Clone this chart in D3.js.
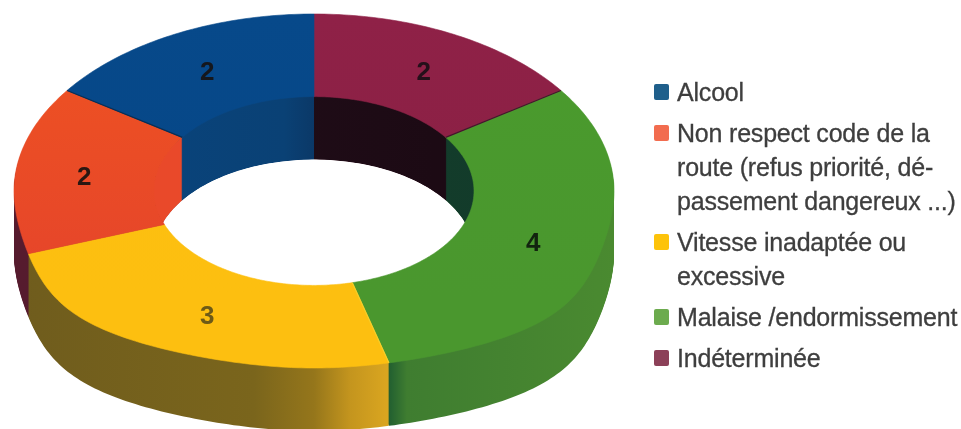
<!DOCTYPE html>
<html lang="fr">
<head>
<meta charset="utf-8">
<script src="https://cdn.jsdelivr.net/npm/d3@7"></script>
<style>
html,body{margin:0;padding:0;background:#fff;overflow:hidden}
svg{display:block;filter:blur(.6px)}
text{font-family:"Liberation Sans",Arial,sans-serif}
</style>
</head>
<body>
<svg id="c" width="961" height="429"></svg>
<script>
// ---- data, legend order ----
const categories = ["Alcool", "Non respect code de la route (refus priorité, dépassement dangereux ...)", "Vitesse inadaptée ou excessive", "Malaise /endormissement", "Indéterminée"];
const values = [2, 2, 3, 4, 2];
const legendLines = [
  ["Alcool"],
  ["Non respect code de la", "route (refus priorité, dé-", "passement dangereux ...)"],
  ["Vitesse inadaptée ou", "excessive"],
  ["Malaise /endormissement"],
  ["Indéterminée"]
];
const legendColors = ["#1f5f8b", "#f26c4f", "#fdc30a", "#6cab4e", "#8c4058"];
const labelColors = ["#15171c", "#2a1712", "#6d5a17", "#12240f", "#24101a"];

// ---- styles ----
const topStops = [
  [["0", "#07498a"], ["1", "#064686"]],
  [["0", "#f05b1c"], ["0.3", "#ec4f24"], ["1", "#e5442b"]],
  [["0", "#fcc00f"], ["1", "#fdbf10"]],
  [["0", "#4a9b2d"], ["1", "#4a972e"]],
  [["0", "#8f2147"], ["1", "#892043"]]
];
const outerStops = [
  [["0", "#0a3f75"], ["1", "#0a3f75"]],
  [["0", "#561b2e"], ["1", "#4a1a2a"]],
  [["0", "#6f5c1d"], ["0.40", "#7a651c"], ["0.5", "#95761b"], ["0.56", "#c4951e"], ["0.62", "#d9a520"], ["1", "#d9a520"]],
  [["0", "#1d5a30"], ["0.62", "#1d5a30"], ["0.655", "#3f7d30"], ["1", "#4a8a30"]],
  [["0", "#4a1a2a"], ["1", "#4a1a2a"]]
];
const innerStops = [
  [["0", "#084681"], ["0.45", "#0a4175"], ["0.58", "#0c2b52"], ["1", "#0c2340"]],
  [["0", "#e9492a"], ["1", "#e9492a"]],
  [["0", "#7a651c"], ["1", "#7a651c"]],
  [["0", "#15402c"], ["1", "#123a2a"]],
  [["0", "#24101c"], ["0.7", "#1c0a14"], ["1", "#1c0a14"]]
];
const seamColors = ["#0a2f55", "none", "#f7cf2a", "#4a1030", "none"];

// ---- geometry ----
const cx = 314, cy = 191, squash = 0.59, depth = 63;
const rOuter = 300, rInner = 160, rLabel = 233;
const bulge = 0.42;

// ring point at clockwise angle a (0 = top) and radius r, with the
// front of the outer rim pushed outward by the perspective view
function project(a, r) {
  const c = -Math.cos(a), t = (r - rInner) / (rOuter - rInner);
  const w = c > 0 ? 1 + bulge * t * c * c * c * (1 - c * c * c * c) : 1;
  return [r * Math.sin(a) * w, r * squash * c];
}
const line = d3.line();
function ringPath(a0, a1) {
  const n = Math.max(2, Math.ceil((a1 - a0) * 60));
  const steps = d3.range(n + 1).map(i => a0 + (a1 - a0) * i / n);
  const pts = steps.map(a => project(a, rOuter)).concat(steps.slice().reverse().map(a => project(a, rInner)));
  return line(pts) + "Z";
}

const svg = d3.select("#c");
const defs = svg.append("defs");

function gradient(id, stops, vertical) {
  const g = defs.append("linearGradient").attr("id", id).attr("gradientUnits", "userSpaceOnUse");
  if (vertical) g.attr("x1", 0).attr("x2", 0).attr("y1", -rOuter * squash).attr("y2", rOuter * squash * 0.6);
  else g.attr("x1", -rOuter).attr("x2", rOuter).attr("y1", 0).attr("y2", 0);
  stops.forEach(s => g.append("stop").attr("offset", s[0]).attr("stop-color", s[1]));
}
values.forEach((_, i) => {
  gradient("top" + i, topStops[i], true);
  gradient("out" + i, outerStops[i], false);
  gradient("inn" + i, innerStops[i], false);
});

// clockwise from 12 o'clock the slices run in reverse legend order
const order = d3.range(values.length).reverse();
const pie = d3.pie().sort(null).value(i => values[i]);
const slices = pie(order);
const slicePath = d => ringPath(d.startAngle, d.endAngle);
const labelArc = d3.arc().innerRadius(2 * rLabel - rOuter).outerRadius(rOuter);
const place = k => `translate(${cx},${cy + k})`;

defs.append("clipPath").attr("id", "hole")
  .append("ellipse").attr("cx", cx).attr("cy", cy).attr("rx", rInner).attr("ry", rInner * squash);

function sweep(parent, prefix) {
  d3.range(depth, 0, -1).forEach(k => {
    parent.append("g").attr("transform", place(k))
      .selectAll("path").data(slices).join("path")
      .attr("d", slicePath)
      .attr("fill", d => `url(#${prefix}${d.data})`);
  });
}

// outer side walls
sweep(svg.append("g"), "out");
// inner walls seen through the hole
sweep(svg.append("g").attr("clip-path", "url(#hole)"), "inn");
// white opening
svg.append("g").attr("clip-path", "url(#hole)")
  .append("ellipse").attr("cx", cx).attr("cy", cy + depth)
  .attr("rx", rInner).attr("ry", rInner * squash).attr("fill", "#fff");

// top surface
const topG = svg.append("g").attr("transform", place(0));
topG.selectAll("path").data(slices).join("path")
  .attr("d", slicePath)
  .attr("fill", d => `url(#top${d.data})`)
  .attr("stroke", d => `url(#top${d.data})`)
  .attr("stroke-width", 0.6);
topG.selectAll("line").data(slices.filter(d => seamColors[d.data] !== "none")).join("line")
  .attr("x1", d => project(d.startAngle, rInner)[0])
  .attr("y1", d => project(d.startAngle, rInner)[1])
  .attr("x2", d => project(d.startAngle, rOuter)[0])
  .attr("y2", d => project(d.startAngle, rOuter)[1])
  .attr("stroke", d => seamColors[d.data])
  .attr("stroke-width", 1.2);

// value labels
svg.append("g").selectAll("text").data(slices).join("text")
  .attr("x", d => cx + 1.5 + labelArc.centroid(d)[0])
  .attr("y", d => cy + 2 + labelArc.centroid(d)[1] * squash)
  .attr("text-anchor", "middle")
  .attr("dominant-baseline", "central")
  .attr("font-size", 26)
  .attr("font-weight", "bold")
  .attr("fill", d => labelColors[d.data])
  .text(d => values[d.data]);

// legend
const lineH = 34, gap = 7;
let y = 101;
const legend = svg.append("g");
legendLines.forEach((lines, i) => {
  legend.append("rect").attr("x", 654).attr("y", y - 17).attr("width", 15).attr("height", 16)
    .attr("rx", 2).attr("fill", legendColors[i]);
  lines.forEach((t, j) => {
    legend.append("text").attr("x", 677).attr("y", y + j * lineH)
      .attr("font-size", 25).attr("letter-spacing", "-0.2px")
      .attr("stroke", "#3e3e3e").attr("stroke-width", 0.3)
      .attr("fill", "#3e3e3e").text(t);
  });
  y += lines.length * lineH + gap;
});
</script>
</body>
</html>
